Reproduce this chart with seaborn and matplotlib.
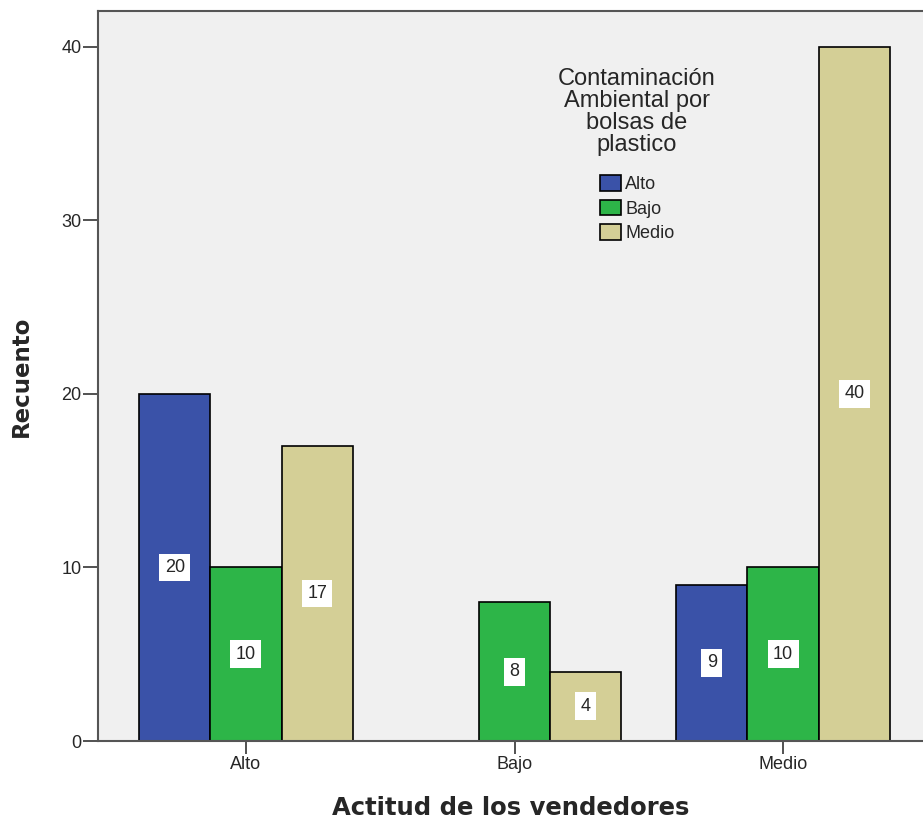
# Grouped bar chart: Actitud de los vendedores vs contaminación ambiental

import pandas as pd
import seaborn as sns
import matplotlib.pyplot as plt

sns.set_theme(style="white")
plt.rcParams['font.family'] = ['Liberation Sans', 'DejaVu Sans']

actitud = ["Alto", "Alto", "Alto", "Bajo", "Bajo", "Medio", "Medio", "Medio"]
contaminacion = ["Alto", "Bajo", "Medio", "Bajo", "Medio", "Alto", "Bajo", "Medio"]
recuento = [20, 10, 17, 8, 4, 9, 10, 40]

categorias = ["Alto", "Bajo", "Medio"]
colores = ["#3a52a8", "#2db548", "#d4cf96"]

d = pd.DataFrame({"actitud": actitud, "contaminacion": contaminacion,
                  "recuento": recuento})

fig = plt.figure(figsize=(9.23, 8.23), dpi=100)
ax = fig.add_axes([98/923, 82/823, 825/923, 730/823])
ax.set_facecolor("#f0f0f0")

sns.barplot(data=d, x="actitud", y="recuento", hue="contaminacion",
            order=categorias, hue_order=categorias, palette=colores,
            width=0.795, edgecolor="black", linewidth=1.2, saturation=1,
            errorbar=None, ax=ax)

# value labels in the middle of each bar
for cont in ax.containers:
    for bar in cont:
        h = bar.get_height()
        if h > 0:
            ax.text(bar.get_x() + bar.get_width()/2, h/2, f"{int(h)}",
                    ha="center", va="center", fontsize=13,
                    bbox=dict(boxstyle="square,pad=0.3", fc="white", ec="none"))

ax.set_xlim(-0.551, 2.521)
ax.set_ylim(0, 42.07)
ax.set_yticks([0, 10, 20, 30, 40])
ax.tick_params(axis="y", direction="out", length=11, width=1.2, color="#333333",
               labelsize=13, left=True, pad=1)
ax.tick_params(axis="x", direction="out", length=9, width=1.2, color="#333333",
               labelsize=13, bottom=True, pad=2)
ax.set_xlabel("Actitud de los vendedores", fontsize=17.5, fontweight="bold",
              family="DejaVu Sans")
ax.set_ylabel("Recuento", fontsize=16.5, fontweight="bold", family="DejaVu Sans")
ax.xaxis.set_label_coords(0.5, -0.076)
ax.yaxis.set_label_coords(-0.079, 0.5)
for s in ax.spines.values():
    s.set_color("#555555")
    s.set_linewidth(1.5)
ax.spines["right"].set_visible(False)

leg = ax.legend(title="Contaminación\nAmbiental por\nbolsas de\nplastico",
                loc="upper center", bbox_to_anchor=((637-98)/825, 0.922),
                frameon=False, fontsize=13, title_fontsize=17,
                handlelength=1.2, handleheight=0.95, handletextpad=0.2,
                labelspacing=0.35, borderpad=0, borderaxespad=0)
leg._legend_box.align = "center"
leg._legend_box.sep = 14
leg.get_title().set_multialignment("center")
leg.get_title().set_linespacing(1.0)

plt.savefig("out.png", dpi=100)
